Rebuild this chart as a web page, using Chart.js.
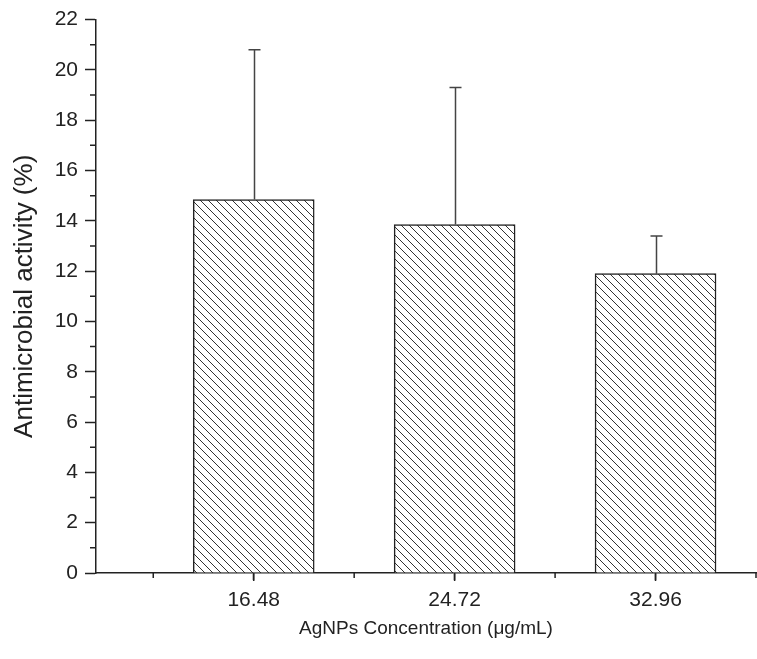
<!DOCTYPE html>
<html>
<head>
<meta charset="utf-8">
<script src="https://cdn.jsdelivr.net/npm/chart.js@4/dist/chart.umd.min.js"></script>
<style>
html,body{margin:0;padding:0;background:#fff;}
#wrap{width:757px;height:659px;}
</style>
</head>
<body>
<div id="wrap"><canvas id="c" width="757" height="659"></canvas></div>
<script>
// ---- data ----
const categories = ['16.48', '24.72', '32.96'];
const positions = [1, 2, 3];
const activity = [14.85, 13.85, 11.9];
const errorUp = [5.95, 5.45, 1.5];
const yMajorTicks = [0, 2, 4, 6, 8, 10, 12, 14, 16, 18, 20, 22];
const yMinorTicks = [1, 3, 5, 7, 9, 11, 13, 15, 17, 19, 21];
const xMinorTicks = [0.5, 1.5, 2.5, 3.5];

const INK = '#222';
const FONT = "'Liberation Sans', Arial, Helvetica, sans-serif";

function hatchPattern() {
  const s = 8;
  const p = document.createElement('canvas');
  p.width = s; p.height = s;
  const g = p.getContext('2d');
  g.fillStyle = '#fff';
  g.fillRect(0, 0, s, s);
  g.strokeStyle = '#333';
  g.lineWidth = 1;
  g.beginPath();
  g.moveTo(-1, -1); g.lineTo(s + 1, s + 1);
  g.moveTo(-1, s - 1); g.lineTo(1, s + 1);
  g.moveTo(s - 1, -1); g.lineTo(s + 1, 1);
  g.stroke();
  const ctx = document.getElementById('c').getContext('2d');
  return ctx.createPattern(p, 'repeat');
}

const extras = {
  id: 'extras',
  afterDatasetsDraw(chart) {
    const ctx = chart.ctx;
    const x = chart.scales.x, y = chart.scales.y;
    ctx.save();
    // error bars (upper only)
    ctx.strokeStyle = '#444';
    ctx.lineWidth = 1.5;
    positions.forEach((p, i) => {
      const px = Math.round(x.getPixelForValue(p)) + 0.5;
      const top = y.getPixelForValue(activity[i] + errorUp[i]);
      const base = y.getPixelForValue(activity[i]);
      ctx.beginPath();
      ctx.moveTo(px, base);
      ctx.lineTo(px, top);
      ctx.moveTo(px - 6, top);
      ctx.lineTo(px + 6, top);
      ctx.stroke();
    });
    // minor and major x ticks, minor y ticks
    ctx.strokeStyle = INK;
    ctx.lineWidth = 1.5;
    ctx.beginPath();
    yMinorTicks.forEach(v => {
      const py = y.getPixelForValue(v);
      ctx.moveTo(x.left - 6, py);
      ctx.lineTo(x.left, py);
    });
    xMinorTicks.forEach(v => {
      const px = x.getPixelForValue(v);
      ctx.moveTo(px, y.bottom);
      ctx.lineTo(px, y.bottom + 5);
    });
    positions.forEach(v => {
      const px = x.getPixelForValue(v);
      ctx.moveTo(px, y.bottom);
      ctx.lineTo(px, y.bottom + 8);
    });
    ctx.stroke();
    ctx.restore();
  }
};

new Chart(document.getElementById('c'), {
  type: 'bar',
  data: {
    datasets: [{
      data: positions.map((p, i) => ({ x: p, y: activity[i] })),
      backgroundColor: hatchPattern(),
      borderColor: INK,
      borderWidth: 1.5,
      borderSkipped: 'bottom',
      barThickness: 121
    }]
  },
  options: {
    responsive: false,
    animation: false,
    layout: { padding: { top: 19, right: 1, left: 0, bottom: 0 } },
    plugins: { legend: { display: false }, tooltip: { enabled: false } },
    scales: {
      x: {
        type: 'linear',
        offset: false,
        min: 0.215,
        max: 3.5,
        afterBuildTicks(s) { s.ticks = positions.map(v => ({ value: v })); },
        afterFit(s) { s.height = 86; },
        ticks: {
          callback: (v) => categories[positions.indexOf(v)] ?? '',
          font: { family: FONT, size: 21 },
          color: INK,
          padding: 8,
          maxRotation: 0
        },
        grid: { display: true, drawOnChartArea: false, drawTicks: true, tickLength: 7, tickColor: INK, tickWidth: 1.5, offset: false },
        border: { display: true, color: INK, width: 1.5 },
        title: {
          display: true,
          text: 'AgNPs Concentration (μg/mL)',
          font: { family: FONT, size: 19 },
          color: INK,
          padding: 19
        }
      },
      y: {
        min: 0,
        max: 22,
        afterBuildTicks(s) { s.ticks = yMajorTicks.map(v => ({ value: v })); },
        afterFit(s) { s.width = 96; },
        ticks: {
          font: { family: FONT, size: 21 },
          color: INK,
          padding: 7
        },
        grid: { display: true, drawOnChartArea: false, drawTicks: true, tickLength: 11, tickColor: INK, tickWidth: 1.5 },
        border: { display: true, color: INK, width: 1.5 },
        title: {
          display: true,
          text: 'Antimicrobial activity (%)',
          font: { family: FONT, size: 26 },
          color: INK,
          padding: 9
        }
      }
    }
  },
  plugins: [extras]
});
</script>
</body>
</html>
